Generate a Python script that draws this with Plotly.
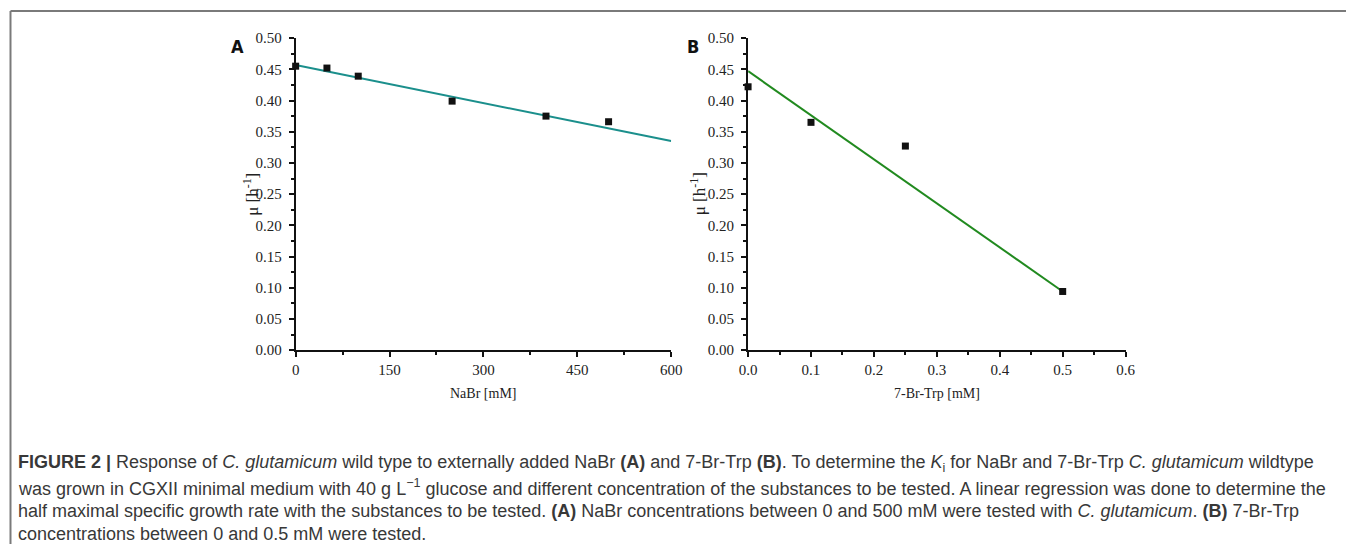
import plotly.graph_objects as go

# Figure size, and the measured mapping from figure pixels to the photographed page
W, H = 1358, 556
KX, KY = 0.9865, 0.968
OX, OY = 8.0, 8.5
SX, SY = KX * W, KY * H

# Panel A data (NaBr)
nabr_x = [0, 50, 100, 250, 400, 500]
nabr_mu = [0.455, 0.452, 0.439, 0.399, 0.375, 0.366]
nabr_fit_x = [0, 600]
nabr_fit_mu = [0.457, 0.335]

# Panel B data (7-Br-Trp)
trp_x = [0.0, 0.1, 0.25, 0.5]
trp_mu = [0.422, 0.365, 0.327, 0.094]
trp_fit_x = [0.0, 0.5]
trp_fit_mu = [0.447, 0.094]

y_ticks = [0.00, 0.05, 0.10, 0.15, 0.20, 0.25, 0.30, 0.35, 0.40, 0.45, 0.50]
xa_ticks = [0, 150, 300, 450, 600]
xb_ticks = [0.0, 0.1, 0.2, 0.3, 0.4, 0.5, 0.6]

def px(x):
    return (x - OX) / SX

def py(y):
    return 1 - (y - OY) / SY

fig = go.Figure()

fig.add_trace(go.Scatter(x=nabr_fit_x, y=nabr_fit_mu, mode="lines",
                         line=dict(color="#1b8f8c", width=2),
                         xaxis="x", yaxis="y", cliponaxis=False, showlegend=False))
fig.add_trace(go.Scatter(x=nabr_x, y=nabr_mu, mode="markers",
                         marker=dict(symbol="square", size=7, color="#111"),
                         xaxis="x", yaxis="y", cliponaxis=False, showlegend=False))
fig.add_trace(go.Scatter(x=trp_fit_x, y=trp_fit_mu, mode="lines",
                         line=dict(color="#218a1f", width=2),
                         xaxis="x2", yaxis="y2", cliponaxis=False, showlegend=False))
fig.add_trace(go.Scatter(x=trp_x, y=trp_mu, mode="markers",
                         marker=dict(symbol="square", size=7, color="#111"),
                         xaxis="x2", yaxis="y2", cliponaxis=False, showlegend=False))

tickfont = dict(family="Liberation Serif", size=15, color="#222")
ydom = [py(349.5), py(38.5)]

common_axis = dict(showline=True, linecolor="#111", linewidth=2, ticks="outside",
                   ticklen=5, tickwidth=1.5, tickcolor="#111", showgrid=False,
                   zeroline=False, tickfont=tickfont)

fig.update_layout(
    width=W, height=H,
    margin=dict(l=0, r=0, t=0, b=0),
    paper_bgcolor="white", plot_bgcolor="white",
    xaxis=dict(domain=[px(295), px(671)], range=[0, 600], anchor="y",
               tickvals=xa_ticks, ticktext=[str(v) for v in xa_ticks],
               minor=dict(ticks="outside", ticklen=3, tickwidth=1.5, tickcolor="#111", dtick=75, tick0=0),
               **common_axis),
    yaxis=dict(domain=ydom, range=[0, 0.5], anchor="x",
               tickvals=y_ticks, ticktext=[f"{v:.2f}" for v in y_ticks], ticklabelstandoff=4,
               minor=dict(ticks="outside", ticklen=3, tickwidth=1.5, tickcolor="#111", dtick=0.025, tick0=0),
               **common_axis),
    xaxis2=dict(domain=[px(748), px(1126)], range=[0, 0.6], anchor="y2",
                tickvals=xb_ticks, ticktext=[f"{v:.1f}" for v in xb_ticks],
                minor=dict(ticks="outside", ticklen=3, tickwidth=1.5, tickcolor="#111", dtick=0.05, tick0=0),
                **common_axis),
    yaxis2=dict(domain=ydom, range=[0, 0.5], anchor="x2",
                tickvals=y_ticks, ticktext=[f"{v:.2f}" for v in y_ticks], ticklabelstandoff=4,
                minor=dict(ticks="outside", ticklen=3, tickwidth=1.5, tickcolor="#111", dtick=0.025, tick0=0),
                **common_axis),
)

# outer frame (top and left sides; the others run off the page)
frame = dict(color="#7a7a7a", width=2)
fig.add_shape(type="line", xref="paper", yref="paper",
              x0=px(9.5), x1=1.05, y0=py(11.5), y1=py(11.5), line=frame)
fig.add_shape(type="line", xref="paper", yref="paper",
              x0=px(9.5), x1=px(9.5), y0=-0.05, y1=py(11.5), line=frame)

serif = dict(family="Liberation Serif", size=14, color="#222")
ytitle_font = dict(family="Liberation Serif", size=17, color="#222")
ann = []
ann.append(dict(x=px(483), y=py(393), text="NaBr [mM]", font=serif))
ann.append(dict(x=px(937), y=py(393), text="7-Br-Trp [mM]", font=serif))
ann.append(dict(x=px(250), y=py(194), text="μ [h<sup>-1</sup>]", font=ytitle_font, textangle=-90))
ann.append(dict(x=px(698), y=py(194), text="μ [h<sup>-1</sup>]", font=ytitle_font, textangle=-90))
letter_font = dict(family="DejaVu Sans Condensed, Liberation Sans", size=18, color="#111")
ann.append(dict(x=px(237), y=py(47), text="<b>A</b>", font=letter_font))
ann.append(dict(x=px(693), y=py(47), text="<b>B</b>", font=letter_font))

cap_font = dict(family="Liberation Sans", size=18, color="#383838")
caption = [
    "<b>FIGURE 2 |</b> Response of <i>C. glutamicum</i> wild type to externally added NaBr <b>(A)</b> and 7-Br-Trp <b>(B)</b>. "
    "To determine the <i>K</i><sub>i</sub> for NaBr and 7-Br-Trp <i>C. glutamicum</i> wildtype",
    "was grown in CGXII minimal medium with 40 g L<sup>−1</sup> glucose and different concentration of the substances to be tested. "
    "A linear regression was done to determine the",
    "half maximal specific growth rate with the substances to be tested. <b>(A)</b> NaBr concentrations between 0 and 500 mM "
    "were tested with <i>C. glutamicum</i>. <b>(B)</b> 7-Br-Trp",
    "concentrations between 0 and 0.5 mM were tested.",
]
cap_y = [462, 486, 510, 533]
for t, yy in zip(caption, cap_y):
    ann.append(dict(x=px(15), y=py(yy), text=t, font=cap_font, xanchor="left"))

for a in ann:
    a.setdefault("xanchor", "center")
    a.update(xref="paper", yref="paper", yanchor="middle", showarrow=False)
    fig.add_annotation(**a)

fig.write_html("out.html")
